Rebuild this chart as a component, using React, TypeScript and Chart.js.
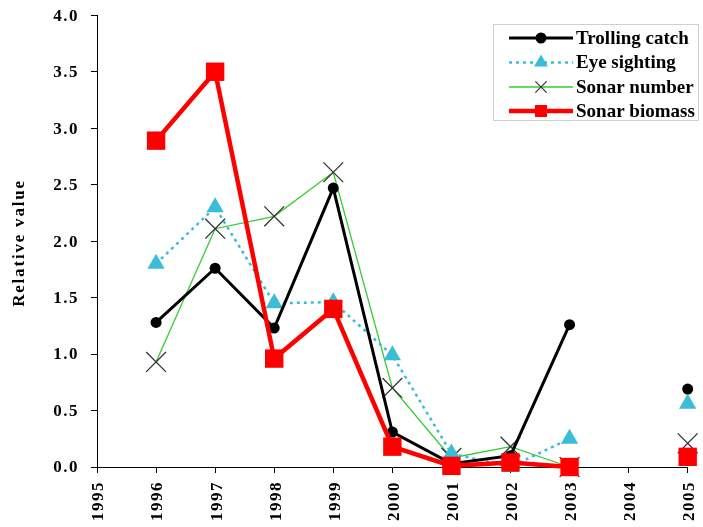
import React, { useEffect, useRef } from "react";
import { Chart, registerables } from "chart.js";

Chart.register(...registerables);

// ---- data ----
const years = [1996, 1997, 1998, 1999, 2000, 2001, 2002, 2003, 2004, 2005];
const trollingCatch = [1.28, 1.76, 1.23, 2.47, 0.31, 0.03, 0.1, 1.26, null, 0.69];
const eyeSighting = [1.8, 2.3, 1.45, 1.46, 0.99, 0.12, 0.0, 0.25, null, 0.56];
const sonarNumber = [0.93, 2.11, 2.22, 2.61, 0.7, 0.08, 0.18, 0.0, null, 0.21];
const sonarBiomass = [2.89, 3.5, 0.96, 1.4, 0.18, 0.01, 0.04, 0.0, null, 0.09];
const seriesNames = ["Trolling catch", "Eye sighting", "Sonar number", "Sonar biomass"];
const yAxisTitle = "Relative value";
const xRange = [1995, 2005];
const yRange = [0, 4];
const yTickStep = 0.5;

const FONT = "'Liberation Serif', 'Times New Roman', serif";

const toPoints = (vals: (number | null)[]) => years.map((x, i) => ({ x, y: vals[i] }));

function drawMarker(ctx: CanvasRenderingContext2D, style: string, x: number, y: number, r: number, fill: string, stroke: string, lw: number) {
  ctx.save();
  ctx.beginPath();
  if (style === "circle") {
    ctx.arc(x, y, r, 0, Math.PI * 2);
    ctx.fillStyle = fill;
    ctx.fill();
  } else if (style === "triangle") {
    let rad = 0;
    ctx.moveTo(x + Math.sin(rad) * r, y - Math.cos(rad) * r);
    rad += (2 * Math.PI) / 3;
    ctx.lineTo(x + Math.sin(rad) * r, y - Math.cos(rad) * r);
    rad += (2 * Math.PI) / 3;
    ctx.lineTo(x + Math.sin(rad) * r, y - Math.cos(rad) * r);
    ctx.closePath();
    ctx.fillStyle = fill;
    ctx.fill();
  } else if (style === "crossRot") {
    const o = Math.SQRT1_2 * r;
    ctx.moveTo(x - o, y - o);
    ctx.lineTo(x + o, y + o);
    ctx.moveTo(x - o, y + o);
    ctx.lineTo(x + o, y - o);
    ctx.strokeStyle = stroke;
    ctx.lineWidth = lw;
    ctx.stroke();
  } else if (style === "rect") {
    const s = Math.SQRT1_2 * r;
    ctx.rect(x - s, y - s, 2 * s, 2 * s);
    ctx.fillStyle = fill;
    ctx.fill();
  }
  ctx.restore();
}

const customPlugin = {
  id: "customDecor",
  beforeDraw(chart: any) {
    const ctx = chart.ctx as any;
    ctx.letterSpacing = "1.5px";
  },
  afterDraw(chart: any) {
    const ctx = chart.ctx as any;
    ctx.save();
    // y axis title
    ctx.letterSpacing = "1.8px";
    ctx.font = `bold 17px ${FONT}`;
    ctx.fillStyle = "#000";
    ctx.textAlign = "center";
    ctx.textBaseline = "middle";
    ctx.translate(20, 243);
    ctx.rotate(-Math.PI / 2);
    ctx.fillText(yAxisTitle, 0, 0);
    ctx.restore();

    // legend
    ctx.save();
    ctx.letterSpacing = "0px";
    const bx = 493.5, by = 24.5, bw = 205, bh = 96;
    ctx.fillStyle = "#fff";
    ctx.fillRect(bx, by, bw, bh);
    ctx.strokeStyle = "#cfcfcf";
    ctx.lineWidth = 1;
    ctx.strokeRect(bx, by, bw, bh);
    const legendMarkers = [
      { style: "circle", r: 5.5, lw: 0 },
      { style: "triangle", r: 8, lw: 0 },
      { style: "crossRot", r: 8, lw: 1.2 },
      { style: "rect", r: 8.5, lw: 0 },
    ];
    const rowY = [38, 62.5, 87, 111];
    chart.data.datasets.forEach((ds: any, i: number) => {
      const y = rowY[i];
      ctx.save();
      ctx.beginPath();
      ctx.strokeStyle = ds.borderColor;
      ctx.lineWidth = ds.borderWidth;
      ctx.setLineDash(ds.borderDash || []);
      ctx.moveTo(509, y);
      ctx.lineTo(573, y);
      ctx.stroke();
      ctx.restore();
      const m = legendMarkers[i];
      drawMarker(ctx, m.style, 541, y, m.r, ds.pointBackgroundColor, ds.pointBorderColor, m.lw);
      ctx.fillStyle = "#000";
      ctx.font = `bold 19px ${FONT}`;
      ctx.textAlign = "left";
      ctx.textBaseline = "middle";
      ctx.fillText(seriesNames[i], 576, y + 1);
    });
    ctx.restore();
    ctx.letterSpacing = "0px";
  },
};

export default function App() {
  const ref = useRef<HTMLCanvasElement>(null);

  useEffect(() => {
    if (!ref.current) return;
    const tickFont = { family: FONT, size: 17, weight: "bold" as const };
    const chart = new Chart(ref.current, {
      type: "line",
      data: {
        datasets: [
          {
            label: seriesNames[0],
            data: toPoints(trollingCatch),
            borderColor: "#000000",
            backgroundColor: "#000000",
            borderWidth: 3,
            pointStyle: "circle",
            pointRadius: 5.5,
            pointBackgroundColor: "#000000",
            pointBorderColor: "#000000",
            pointBorderWidth: 0,
            order: 1,
            clip: false,
            spanGaps: false,
          },
          {
            label: seriesNames[1],
            data: toPoints(eyeSighting),
            borderColor: "#3bbcd8",
            backgroundColor: "#3bbcd8",
            borderWidth: 2.5,
            borderDash: [3, 4],
            pointStyle: "triangle",
            pointRadius: 10,
            pointBackgroundColor: "#3bbcd8",
            pointBorderColor: "#3bbcd8",
            pointBorderWidth: 0,
            order: 2,
            clip: false,
            spanGaps: false,
          },
          {
            label: seriesNames[2],
            data: toPoints(sonarNumber),
            borderColor: "#33cc33",
            backgroundColor: "#33cc33",
            borderWidth: 1.3,
            pointStyle: "crossRot",
            pointRadius: 14,
            pointBackgroundColor: "#333333",
            pointBorderColor: "#333333",
            pointBorderWidth: 1.3,
            order: 3,
            clip: false,
            spanGaps: false,
          },
          {
            label: seriesNames[3],
            data: toPoints(sonarBiomass),
            borderColor: "#ff0000",
            backgroundColor: "#ff0000",
            borderWidth: 4.5,
            pointStyle: "rect",
            pointRadius: 13,
            pointBackgroundColor: "#ff0000",
            pointBorderColor: "#ff0000",
            pointBorderWidth: 0,
            order: 0,
            clip: false,
            spanGaps: false,
          },
        ] as any,
      },
      options: {
        animation: false,
        responsive: false,
        layout: { padding: { top: 15, right: 11, left: 0, bottom: 0 } },
        plugins: { legend: { display: false }, tooltip: { enabled: false } },
        elements: { line: { tension: 0 } },
        scales: {
          x: {
            type: "linear",
            min: xRange[0],
            max: xRange[1],
            afterFit: (s: any) => {
              s.height = 60;
              s.paddingLeft = 0;
              s.paddingRight = 0;
            },
            ticks: {
              stepSize: 1,
              autoSkip: false,
              maxRotation: 90,
              minRotation: 90,
              padding: 8,
              labelOffset: 2,
              color: "#000",
              font: tickFont,
              callback: (v: any) => String(v),
            },
            grid: { drawOnChartArea: false, drawTicks: true, tickLength: 6, color: "#000", lineWidth: 1 },
            border: { display: true, color: "#000", width: 1 },
          },
          y: {
            type: "linear",
            min: yRange[0],
            max: yRange[1],
            afterFit: (s: any) => {
              s.width = 97;
              s.paddingTop = 0;
              s.paddingBottom = 0;
            },
            ticks: {
              stepSize: yTickStep,
              padding: 12,
              labelOffset: 1,
              color: "#000",
              font: tickFont,
              callback: (v: any) => Number(v).toFixed(1),
            },
            grid: { drawOnChartArea: false, drawTicks: true, tickLength: 6, color: "#000", lineWidth: 1 },
            border: { display: true, color: "#000", width: 1 },
          },
        },
      } as any,
      plugins: [customPlugin],
    });
    return () => chart.destroy();
  }, []);

  return (
    <div style={{ position: "fixed", left: 0, top: 0, width: 703, height: 527, background: "#fff" }}>
      <canvas ref={ref} width={703} height={527} style={{ display: "block" }} />
    </div>
  );
}
